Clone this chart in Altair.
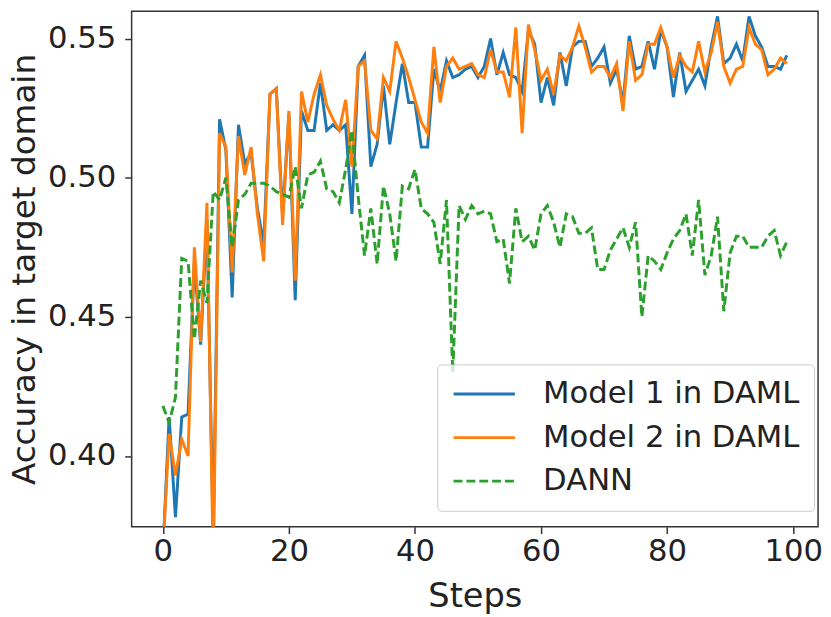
import altair as alt
import pandas as pd

steps = list(range(100))

model1 = [0.365, 0.414, 0.378, 0.414, 0.415, 0.470, 0.440, 0.485, 0.370, 0.521,
          0.510, 0.457, 0.519, 0.505, 0.509, 0.489, 0.476, 0.530, 0.532, 0.486,
          0.523, 0.456, 0.524, 0.517, 0.517, 0.534, 0.517, 0.519, 0.517, 0.519,
          0.487, 0.540, 0.544, 0.504, 0.512, 0.533, 0.512, 0.527, 0.541, 0.527,
          0.527, 0.511, 0.511, 0.539, 0.531, 0.542, 0.536, 0.537, 0.539, 0.540,
          0.536, 0.540, 0.550, 0.537, 0.545, 0.537, 0.536, 0.531, 0.553, 0.548,
          0.527, 0.536, 0.526, 0.545, 0.533, 0.547, 0.549, 0.549, 0.540, 0.543,
          0.547, 0.534, 0.539, 0.527, 0.551, 0.539, 0.540, 0.549, 0.539, 0.553,
          0.547, 0.529, 0.545, 0.531, 0.535, 0.539, 0.533, 0.547, 0.558, 0.541,
          0.543, 0.548, 0.542, 0.558, 0.551, 0.547, 0.540, 0.540, 0.539, 0.544]

model2 = [0.365, 0.408, 0.393, 0.406, 0.400, 0.475, 0.441, 0.491, 0.360, 0.516,
          0.511, 0.466, 0.515, 0.501, 0.511, 0.487, 0.470, 0.530, 0.532, 0.483,
          0.524, 0.463, 0.531, 0.520, 0.530, 0.537, 0.526, 0.521, 0.517, 0.528,
          0.504, 0.540, 0.542, 0.517, 0.514, 0.536, 0.531, 0.549, 0.543, 0.536,
          0.528, 0.520, 0.516, 0.547, 0.527, 0.540, 0.543, 0.539, 0.540, 0.541,
          0.537, 0.536, 0.546, 0.538, 0.538, 0.529, 0.554, 0.516, 0.555, 0.546,
          0.535, 0.539, 0.530, 0.544, 0.542, 0.547, 0.5545, 0.547, 0.538, 0.540,
          0.540, 0.536, 0.541, 0.524, 0.549, 0.535, 0.537, 0.548, 0.548, 0.554,
          0.547, 0.536, 0.544, 0.540, 0.538, 0.549, 0.538, 0.545, 0.556, 0.540,
          0.534, 0.539, 0.540, 0.554, 0.548, 0.546, 0.537, 0.539, 0.543, 0.541]

dann = [0.418, 0.412, 0.421, 0.471, 0.470, 0.442, 0.463, 0.455, 0.495, 0.492,
        0.500, 0.475, 0.492, 0.494, 0.498, 0.498, 0.498, 0.497, 0.495, 0.494,
        0.493, 0.504, 0.489, 0.501, 0.502, 0.506, 0.496, 0.495, 0.491, 0.503,
        0.517, 0.493, 0.472, 0.489, 0.469, 0.497, 0.487, 0.470, 0.497, 0.496,
        0.503, 0.489, 0.487, 0.484, 0.469, 0.492, 0.430, 0.490, 0.485, 0.490,
        0.487, 0.488, 0.487, 0.477, 0.478, 0.462, 0.489, 0.477, 0.479, 0.474,
        0.487, 0.490, 0.484, 0.475, 0.487, 0.486, 0.480, 0.480, 0.482, 0.467,
        0.467, 0.474, 0.478, 0.482, 0.475, 0.484, 0.450, 0.472, 0.470, 0.467,
        0.473, 0.478, 0.481, 0.487, 0.472, 0.492, 0.465, 0.472, 0.486, 0.452,
        0.473, 0.479, 0.479, 0.475, 0.475, 0.475, 0.479, 0.481, 0.472, 0.477]

series_names = ["Model 1 in DAML", "Model 2 in DAML", "DANN"]
series_colors = ["#1f77b4", "#ff7f0e", "#2ca02c"]
series_dash = [[1, 0], [1, 0], [9, 4]]
x_ticks = [0, 20, 40, 60, 80, 100]
y_ticks = [0.40, 0.45, 0.50, 0.55]

rows = []
for name, vals in zip(series_names, [model1, model2, dann]):
    for s, v in zip(steps, vals):
        rows.append({"step": s, "acc": v, "series": name})
df = pd.DataFrame(rows)

FONT = "DejaVu Sans"

color_scale = alt.Scale(domain=series_names, range=series_colors)
dash_scale = alt.Scale(domain=series_names, range=series_dash)

legend = alt.Legend(
    title=None, orient="none", legendX=309, legendY=357,
    symbolType="stroke", symbolSize=3844, symbolStrokeWidth=3, symbolOffset=1,
    labelFontSize=31, labelFont=FONT, labelColor="#222", labelLimit=500,
    labelOffset=27, rowPadding=12, padding=14, clipHeight=32,
    fillColor="rgba(255,255,255,0.8)", strokeColor="#cccccc", cornerRadius=4,
)

base = alt.Chart(df).mark_line(strokeWidth=3, clip=True).encode(
    x=alt.X("step:Q",
            scale=alt.Scale(domain=[-4.95, 103.95], nice=False, zero=False),
            axis=alt.Axis(title="Steps", values=x_ticks, format="d")),
    y=alt.Y("acc:Q",
            scale=alt.Scale(domain=[0.3746, 0.5598], nice=False, zero=False),
            axis=alt.Axis(title="Accuracy in target domain", values=y_ticks, format=".2f")),
    color=alt.Color("series:N", scale=color_scale, legend=legend, sort=series_names),
    strokeDash=alt.StrokeDash("series:N", scale=dash_scale, legend=legend, sort=series_names),
)

layers = [base.transform_filter(alt.datum.series == n) for n in series_names]

chart = alt.layer(*layers).properties(
    width=694, height=521,
    padding={"left": 0, "top": 0, "right": 0, "bottom": 0},
).configure_view(
    stroke="#333333", strokeWidth=1.5
).configure_axis(
    grid=False, domain=False,
    ticks=True, tickSize=7, tickWidth=1.5, tickColor="#333333",
    labelFont=FONT, labelFontSize=31, labelColor="#222",
    titleFont=FONT, titleFontSize=34, titleFontWeight="normal", titleColor="#222",
).configure_axisY(
    labelPadding=9, titlePadding=6, titleFontSize=33,
).configure_axisX(
    labelPadding=3, titlePadding=14,
)

chart.save("out.html", embed_options={"renderer": "svg", "actions": False})
